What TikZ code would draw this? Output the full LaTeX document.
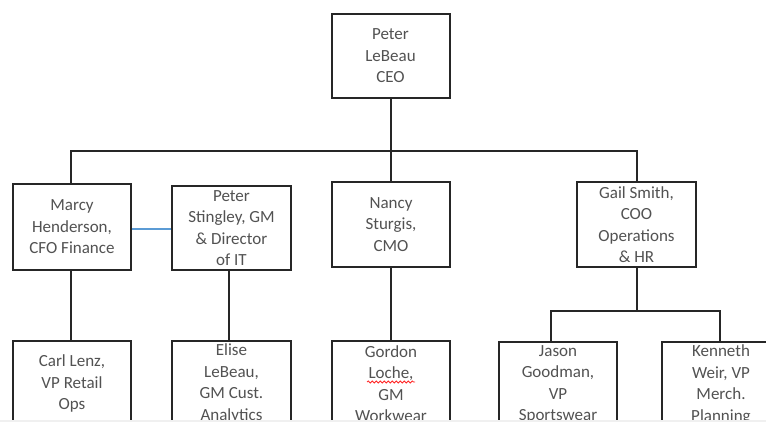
\documentclass[tikz,border=0pt]{standalone}
\usepackage{fontspec}
\setmainfont{Carlito}
\usetikzlibrary{decorations.pathmorphing}
\definecolor{officeblue}{HTML}{5B9BD5}
\begin{document}
\begin{tikzpicture}[x=1pt,y=-1pt,
  box/.style={draw=black!85, line width=2pt, minimum width=118pt, minimum height=85pt,
    inner sep=0pt, align=center, text=black!68,
    font=\fontsize{17}{21.5}\selectfont},
  conn/.style={draw=black!85, line width=2pt},
  link/.style={draw=officeblue, line width=1.3pt},
  squig/.style={draw=red!85, line width=0.8pt, decorate,
    decoration={snake, segment length=4pt, amplitude=1pt}}]
\clip (0,0) rectangle (766,422);
\fill[white] (0,0) rectangle (766,422);

\node[box, minimum height=84pt] (ceo) at (390.5,56) {Peter\\LeBeau\\CEO};

\node[box, minimum height=86pt] (marcy) at (72,227) {Marcy\\Henderson,\\CFO Finance};
\node[box, minimum height=84pt, minimum width=119pt] (stingley) at (231.5,228) {Peter\\Stingley, GM\\\& Director\\of IT};
\node[box] (nancy) at (391,224.5) {Nancy\\Sturgis,\\CMO};
\node[box, minimum width=119pt] (gail) at (636.5,224.5) {Gail Smith,\\COO\\Operations\\\& HR};

\node[box] (carl) at (72,383.5) {Carl Lenz,\\VP Retail\\Ops};
\node[box, minimum width=119pt] (elise) at (231.5,383.5) {Elise\\LeBeau,\\GM Cust.\\Analytics};
\node[box] (gordon) at (391,383.5) {Gordon\\Loche,\\GM\\Workwear};
\node[box] (jason) at (558,384.5) {Jason\\Goodman,\\VP\\Sportswear};
\node[box] (kenneth) at (721,384.5) {Kenneth\\Weir, VP\\Merch.\\Planning};

\coordinate (bar) at (0,151);
\coordinate (bar2) at (0,310.5);
\coordinate (blueY) at (0,229);

\draw[conn] (ceo.south) -- (ceo.south |- nancy.north);
\draw[conn] ([xshift=-1.5pt]marcy.north) -- ([xshift=-1.5pt]marcy.north |- bar) -- (gail.north |- bar) -- (gail.north);
\draw[link] (marcy.east |- blueY) -- (stingley.west |- blueY);
\draw[conn] ([xshift=-1.5pt]marcy.south) -- ([xshift=-1.5pt]carl.north);
\draw[conn] ([xshift=-2.5pt]stingley.south) -- ([xshift=-2.5pt]elise.north);
\draw[conn] (nancy.south) -- (gordon.north);
\draw[conn] (gail.south) -- (gail.south |- bar2);
\draw[conn] ([xshift=-7pt]jason.north) -- ([xshift=-7pt]jason.north |- bar2) -- ([xshift=-1pt]kenneth.north |- bar2) -- ([xshift=-1pt]kenneth.north);

\draw[squig] ([shift={(-24,-1.5)}]gordon.center) -- ([shift={(24,-1.5)}]gordon.center);

\fill[black!6] (0,419.5) rectangle (766,422);
\end{tikzpicture}
\end{document}
